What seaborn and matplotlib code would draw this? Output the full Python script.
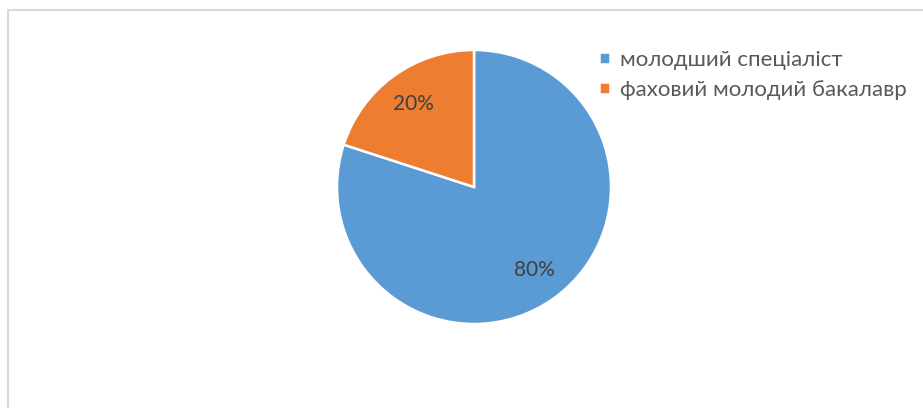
import matplotlib
matplotlib.use('Agg')
import matplotlib.pyplot as plt
import matplotlib.patches as mpatches
import seaborn as sns

categorias = ['молодший спеціаліст', 'фаховий молодий бакалавр']
valores = [80, 20]
cores = ['#5B9BD5', '#ED7D31']

sns.set_theme(style='white')
plt.rcParams['font.family'] = ['Lato', 'DejaVu Sans']

W, H = 923, 408
fig = plt.figure(figsize=(W / 100, H / 100), dpi=100)

# moldura cinza do grafico (so esquerda e topo aparecem)
fig.patches.append(mpatches.Rectangle(
    (8 / W, -0.1), 1.2, 1 - 10 / H + 0.1,
    transform=fig.transFigure, fill=False,
    edgecolor='#D9D9D9', linewidth=1.5
))

cx, cy, r = 474, H - 187, 137
ax = fig.add_axes([(cx - r) / W, (cy - r) / H, 2 * r / W, 2 * r / H])

fatias, textos, autotextos = ax.pie(
    valores,
    colors=cores,
    startangle=90,
    counterclock=False,
    autopct='%1.0f%%',
    pctdistance=0.75,
    wedgeprops={'edgecolor': 'white', 'linewidth': 1.8},
    textprops={'color': '#404040', 'fontsize': 15},
)
ax.set_xlim(-1, 1)
ax.set_ylim(-1, 1)
ax.set_aspect('auto')
ax.axis('off')

fig.legend(
    fatias, categorias,
    loc='upper left',
    bbox_to_anchor=(579 / W, 1 - 30 / H),
    frameon=False,
    fontsize=16,
    handlelength=0.5, handleheight=0.5,
    handletextpad=0.45, labelspacing=0.45,
    labelcolor='#595959',
)

fig.savefig('out.png', dpi=100, facecolor='white')
